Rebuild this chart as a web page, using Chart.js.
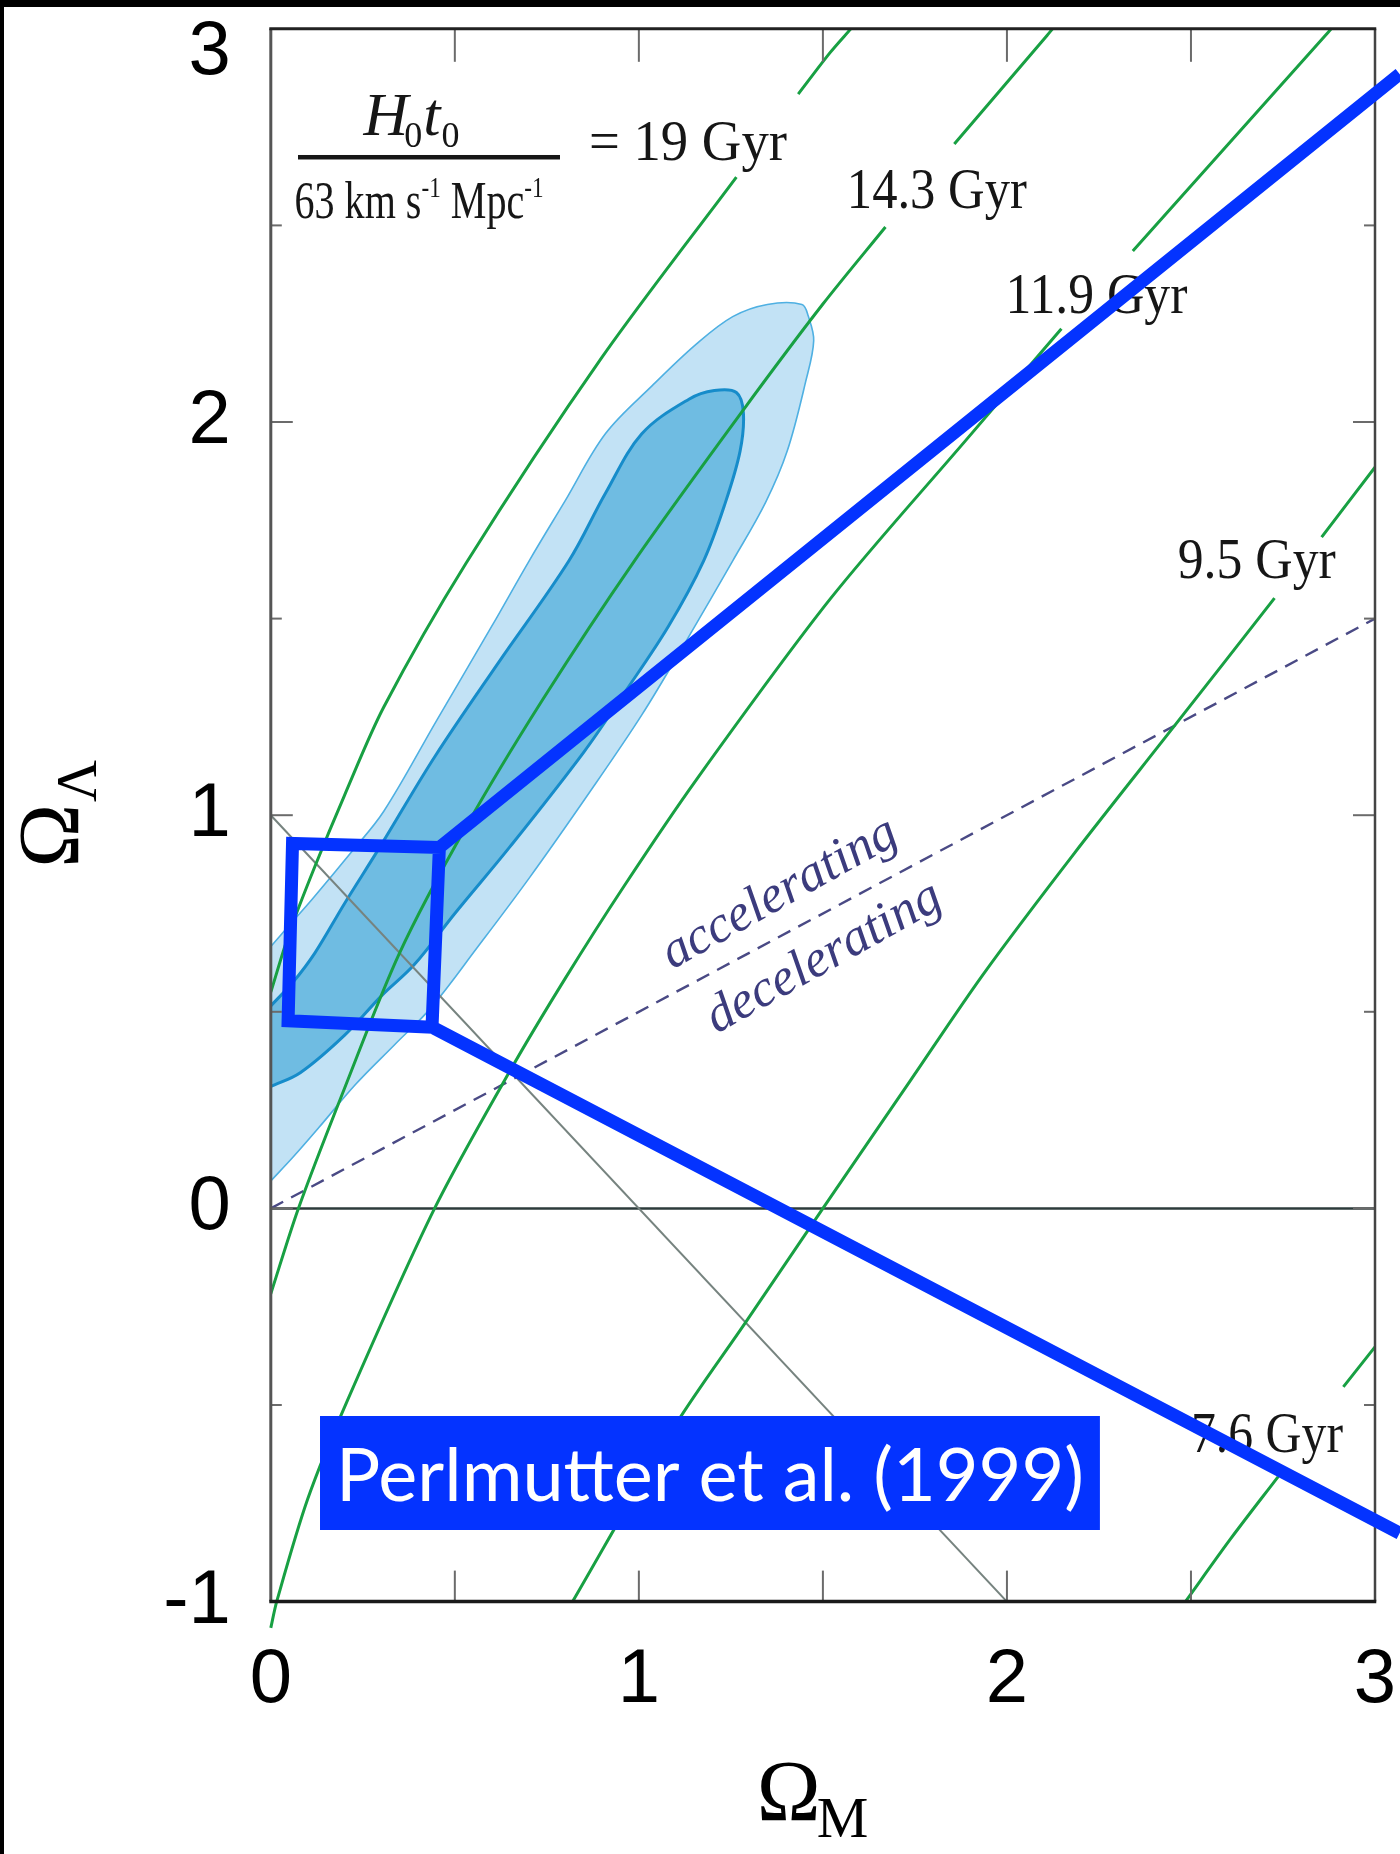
<!DOCTYPE html>
<html><head><meta charset="utf-8">
<script src="https://cdn.jsdelivr.net/npm/chart.js@4.4.1/dist/chart.umd.min.js"></script>
<style>
html,body{margin:0;padding:0;background:#000;width:1400px;height:1854px;overflow:hidden;}
#wrap{position:absolute;left:4px;top:7px;width:1396px;height:1847px;background:#fff;}
canvas{display:block;}
</style></head><body>
<div id="wrap"><canvas id="c" width="1396" height="1847"></canvas></div>
<script>
// ---- tick values ----
const xTicks = [0, 1, 2, 3];
const yTicks = [-1, 0, 1, 2, 3];
const xTickMarks = [0.5, 1, 1.5, 2, 2.5];
const yTickMarks = [-0.5, 0, 0.5, 1, 1.5, 2, 2.5];

// ---- age contours (Omega_M, Omega_Lambda), null = gap behind label ----
const ageLabels = ['19 Gyr', '14.3 Gyr', '11.9 Gyr', '9.5 Gyr', '7.6 Gyr'];
const age19 = [[0,0.55],[0.05,0.70],[0.12,0.87],[0.2,1.05],[0.307,1.275],[0.53,1.64],[0.9,2.165],[1.265,2.623],null,[1.433,2.834],[1.52,2.94],[1.576,3.0]];
const age143 = [[0,-0.217],[0.075,0],[0.198,0.30],[0.35,0.65],[0.53,0.97],[0.738,1.293],[0.988,1.647],[1.284,2.031],[1.50,2.30],[1.67,2.496],null,[1.857,2.707],[2.109,2.983],[2.124,3.0]];
const age119 = [[0,-1.067],[0.016,-1.0],[0.1,-0.74],[0.208,-0.489],[0.445,0],[0.65,0.35],[0.8,0.585],[0.96,0.82],[1.156,1.09],[1.52,1.55],[1.887,1.952],[2.148,2.237],null,[2.342,2.435],[2.865,2.983],[2.881,3.0]];
const age95 = [[0.82,-1.0],[1.1,-0.55],[1.29,-0.29],[1.5,0],[1.739,0.327],[1.936,0.596],[2.183,0.903],[2.455,1.227],[2.727,1.552],null,[2.855,1.707],[3.0,1.885]];
const age76 = [[2.485,-1.0],[2.608,-0.84],[2.737,-0.682],null,[2.914,-0.454],[3.0,-0.352]];

// ---- confidence regions ----
const outerRegion = [[0,0.07],[0.06,0.13],[0.13,0.205],[0.23,0.315],[0.335,0.415],[0.435,0.51],[0.563,0.666],[0.702,0.84],[0.86,1.05],[1.008,1.255],[1.136,1.455],[1.255,1.647],[1.344,1.795],[1.403,1.926],[1.453,2.102],[1.475,2.207],[1.46,2.27],[1.443,2.299],[1.349,2.299],[1.255,2.268],[1.156,2.198],[1.037,2.093],[0.909,1.97],[0.8,1.80],[0.702,1.647],[0.6,1.48],[0.45,1.24],[0.307,1.01],[0.218,0.905],[0.113,0.787],[0.05,0.72],[0,0.666]];
const innerRegion = [[0,0.31],[0.08,0.345],[0.2,0.44],[0.3,0.54],[0.39,0.62],[0.5,0.75],[0.65,0.92],[0.85,1.16],[0.96,1.31],[1.08,1.48],[1.176,1.647],[1.235,1.795],[1.275,1.926],[1.284,2.023],[1.265,2.075],[1.205,2.08],[1.136,2.058],[1.008,1.97],[0.91,1.82],[0.81,1.647],[0.62,1.39],[0.445,1.148],[0.297,0.92],[0.2,0.775],[0.12,0.65],[0.06,0.575],[0,0.515]];

// ---- reference lines ----
const accelLine = [[0,0],[3,1.5]];
const flatLine = [[0,1],[2,-1]];
const zeroLine = [[0,0],[3,0]];

// ---- zoom overlay path ----
const zoomPath = [[3.067,2.885],[0.458,0.918],[0.059,0.928],[0.047,0.477],[0.438,0.461],[0.458,0.918],[0.438,0.461],[3.067,-0.826]];

const mk = a => { let lx = 0; return a.map(p => { if (p === null) return {x: lx, y: null}; lx = p[0]; return {x: p[0], y: p[1]}; }); };

const GREEN = '#18a043';
const ageSeries = [age19, age143, age119, age95, age76];

const datasets = [
  {label:'zoom', data: mk(zoomPath), borderColor:'#0433ff', borderWidth:13, tension:0, clip:false, order:0, borderJoinStyle:'miter'}
];
ageSeries.forEach((a,i) => {
  const d = {label: ageLabels[i], data: mk(a), borderColor: GREEN, borderWidth: 3, tension: 0.3, order: 1};
  if (i === 2) d.clip = false;
  datasets.push(d);
});
datasets.push({label:'q0=0', data: mk(accelLine), borderColor:'#4a4a85', borderWidth:2.4, borderDash:[14,9], tension:0, order:2});
datasets.push({label:'flat', data: mk(flatLine), borderColor:'#76837f', borderWidth:2, tension:0, order:3});
datasets.push({label:'zero', data: mk(zeroLine), borderColor:'#2d3b3b', borderWidth:2.5, tension:0, order:4});
datasets.push({label:'inner', data: mk(innerRegion), fill:'shape', backgroundColor:'#6fbce2', borderColor:'#168cca', borderWidth:3, tension:0.35, order:5});
datasets.push({label:'outer', data: mk(outerRegion), fill:'shape', backgroundColor:'#c2e2f5', borderColor:'#4fb0e2', borderWidth:1.6, tension:0.35, order:6});

function fitText(ctx, txt, X, Y, font, w) {
  ctx.font = font;
  const m = ctx.measureText(txt).width;
  ctx.save(); ctx.translate(X, Y); ctx.scale(w / m, 1);
  ctx.textAlign = 'left'; ctx.textBaseline = 'alphabetic';
  ctx.fillText(txt, 0, 0); ctx.restore();
}
function seg(ctx, a, b, c, d) { ctx.beginPath(); ctx.moveTo(a, b); ctx.lineTo(c, d); ctx.stroke(); }

const SERIF = '"Liberation Serif", "Times New Roman", serif';

function drawFrame(chart) {
  const {ctx, chartArea: ca, scales: {x, y}} = chart;
  ctx.save();
  ctx.lineCap = 'butt';
  ctx.strokeStyle = '#6b6b6b'; ctx.lineWidth = 2;
  xTickMarks.forEach(v => { const X = x.getPixelForValue(v); seg(ctx, X, ca.bottom, X, ca.bottom - 31); seg(ctx, X, ca.top, X, ca.top + 33); });
  yTickMarks.forEach(v => { const Y = y.getPixelForValue(v); const L = Number.isInteger(v) ? 22 : 11; seg(ctx, ca.left, Y, ca.left + L, Y); seg(ctx, ca.right, Y, ca.right - L, Y); });
  ctx.strokeStyle = '#555'; ctx.lineWidth = 3; seg(ctx, ca.left, ca.top, ca.left, ca.bottom);
  ctx.strokeStyle = '#444'; ctx.lineWidth = 2.5; seg(ctx, ca.right, ca.top, ca.right, ca.bottom);
  ctx.strokeStyle = '#222'; ctx.lineWidth = 3; seg(ctx, ca.left - 1.5, ca.top, ca.right + 1.25, ca.top);
  ctx.strokeStyle = '#1a1a1a'; ctx.lineWidth = 3.5; seg(ctx, ca.left - 1.5, ca.bottom, ca.right + 1.25, ca.bottom);
  ctx.restore();
}

function drawTexts(chart) {
  const {ctx, scales: {x, y}} = chart;
  const P = (a, b) => [x.getPixelForValue(a), y.getPixelForValue(b)];
  ctx.save();
  ctx.fillStyle = '#161616';
  const f58 = '58px ' + SERIF;
  let p;
  p = P(1.565, 2.544); fitText(ctx, '14.3 Gyr', p[0], p[1], f58, 180);
  p = P(1.996, 2.277); fitText(ctx, '11.9 Gyr', p[0], p[1], f58, 182);
  p = P(2.464, 1.603); fitText(ctx, '9.5 Gyr', p[0], p[1], f58, 158);
  p = P(2.50, -0.6195); fitText(ctx, '7.6 Gyr', p[0], p[1], f58, 152);
  p = P(0.8644, 2.666); fitText(ctx, '= 19 Gyr', p[0], p[1], f58, 198);

  // fraction H0 t0 / 63 km s-1 Mpc-1
  p = P(0.2521, 2.729);
  let X = p[0], Y = p[1];
  ctx.textAlign = 'left'; ctx.textBaseline = 'alphabetic';
  ctx.font = 'italic 62px ' + SERIF; ctx.fillText('H', X, Y); X += ctx.measureText('H').width - 4;
  ctx.font = '36px ' + SERIF; ctx.fillText('0', X, Y + 12); X += ctx.measureText('0').width + 1;
  ctx.font = 'italic 62px ' + SERIF; ctx.fillText('t', X, Y); X += ctx.measureText('t').width + 1;
  ctx.font = '36px ' + SERIF; ctx.fillText('0', X, Y + 12);
  const b0 = P(0.0739, 2.674), b1 = P(0.7857, 2.674);
  ctx.fillRect(b0[0], b0[1] - 2, b1[0] - b0[0], 4.5);
  p = P(0.0644, 2.518);
  const parts = [['63 km s', 52, 0], ['-1', 30, -21], [' Mpc', 52, 0], ['-1', 30, -21]];
  let tot = 0;
  parts.forEach(q => { ctx.font = q[1] + 'px ' + SERIF; tot += ctx.measureText(q[0]).width; });
  const sc = 249 / tot;
  ctx.save(); ctx.translate(p[0], p[1]); ctx.scale(sc, 1);
  let cx = 0;
  parts.forEach(q => { ctx.font = q[1] + 'px ' + SERIF; ctx.fillText(q[0], cx, q[2]); cx += ctx.measureText(q[0]).width; });
  ctx.restore();

  // accelerating / decelerating, rotated along the q0 = 0 line
  const a0 = P(0, 0), a1 = P(3, 1.5);
  const ang = Math.atan2(a1[1] - a0[1], a1[0] - a0[0]) * 1.04;
  ctx.fillStyle = '#3b3b7d';
  const drawRot = (txt, mx, my, w) => {
    const q = P(mx, my);
    ctx.save();
    ctx.translate(q[0], q[1]);
    ctx.rotate(ang);
    ctx.font = 'italic 52px ' + SERIF;
    const m = ctx.measureText(txt).width;
    ctx.scale(w / m, w / m);
    ctx.textAlign = 'center'; ctx.textBaseline = 'middle';
    ctx.fillText(txt, 0, 0);
    ctx.restore();
  };
  drawRot('accelerating', 1.383, 0.80, 262);
  drawRot('decelerating', 1.503, 0.637, 262);
  ctx.restore();
}

function drawOuter(chart) {
  const {ctx, chartArea: ca, scales: {x, y}} = chart;
  const P = (a, b) => [x.getPixelForValue(a), y.getPixelForValue(b)];
  ctx.save();
  // y label "3" sits below its tick
  ctx.fillStyle = '#000'; ctx.font = '76px "Liberation Sans", Arial, sans-serif';
  ctx.textAlign = 'right'; ctx.textBaseline = 'middle';
  ctx.fillText('3', ca.left - 40, y.getPixelForValue(3) + 24);

  // axis titles
  ctx.textAlign = 'left'; ctx.textBaseline = 'alphabetic';
  const ox = ca.left + 486, oy = ca.bottom + 218;
  ctx.font = '86px ' + SERIF; ctx.fillText('\u03A9', ox, oy);
  const wO = ctx.measureText('\u03A9').width;
  ctx.font = '58px ' + SERIF; ctx.fillText('M', ox + wO - 4, oy + 17);
  ctx.save();
  ctx.translate(ca.left - 193, ca.top + 839);
  ctx.rotate(-Math.PI / 2);
  ctx.font = '86px ' + SERIF; ctx.fillText('\u03A9', 0, 0);
  const wO2 = ctx.measureText('\u03A9').width;
  ctx.font = '58px ' + SERIF; ctx.fillText('\u039B', wO2 + 2, 18);
  ctx.restore();

  // Perlmutter label
  const r0 = P(0.1337, -0.528), r1 = P(2.2526, -0.8179);
  ctx.fillStyle = '#0433ff';
  ctx.fillRect(r0[0], r0[1], r1[0] - r0[0], r1[1] - r0[1]);
  ctx.fillStyle = '#fff';
  const t0 = P(0.177, -0.7434);
  fitText(ctx, 'Perlmutter et al. (1999)', t0[0], t0[1], '74px Lato, "Open Sans", sans-serif', 748);
  ctx.restore();
}

const deco = {
  id: 'deco',
  beforeDatasetDraw(chart, args) {
    if (chart.data.datasets[args.index].label !== 'zoom') return;
    drawFrame(chart);
    drawTexts(chart);
  },
  afterDatasetsDraw(chart) { drawOuter(chart); }
};

const tickFont = {family: '"Liberation Sans", Arial, sans-serif', size: 76};

new Chart(document.getElementById('c'), {
  type: 'line',
  data: {datasets},
  options: {
    responsive: false, animation: false, devicePixelRatio: 1, events: [],
    layout: {autoPadding: false, padding: {top: 21.8, right: 25, left: 0, bottom: 0}},
    plugins: {legend: {display: false}, tooltip: {enabled: false}},
    elements: {point: {radius: 0, hoverRadius: 0}, line: {borderCapStyle: 'butt'}},
    scales: {
      x: {
        type: 'linear', min: 0, max: 3, position: 'bottom',
        afterBuildTicks: s => { s.ticks = xTicks.map(v => ({value: v})); },
        ticks: {font: tickFont, color: '#000', padding: 34, maxRotation: 0, autoSkip: false, callback: v => String(v)},
        grid: {display: false, drawTicks: false}, border: {display: false},
        afterFit: s => { s.height = 252.4; s.paddingLeft = 0; s.paddingRight = 0; }
      },
      y: {
        type: 'linear', min: -1, max: 3, position: 'left',
        afterBuildTicks: s => { s.ticks = yTicks.map(v => ({value: v})); },
        ticks: {font: tickFont, color: '#000', padding: 40, autoSkip: false, callback: v => (v === 3 ? '' : String(v))},
        grid: {display: false, drawTicks: false}, border: {display: false},
        afterFit: s => { s.width = 266.8; s.paddingTop = 0; s.paddingBottom = 0; }
      }
    }
  },
  plugins: [deco]
});
</script>
</body></html>
